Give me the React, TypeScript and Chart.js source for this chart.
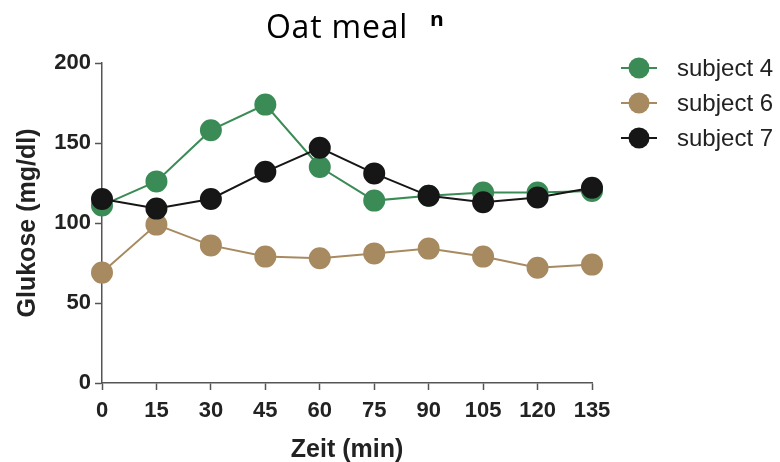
import React, { useEffect, useRef } from "react";
import { Chart, registerables } from "chart.js";

Chart.register(...registerables);

const times = [0, 15, 30, 45, 60, 75, 90, 105, 120, 135];
const subject4 = [111, 126, 158, 174, 135, 114, 117, 119, 119, 120];
const subject6 = [69, 99, 86, 79, 78, 81, 84, 79, 72, 74];
const subject7 = [115, 109, 115, 132, 147, 131, 117, 113, 116, 122];
const seriesLabels = ["subject 4", "subject 6", "subject 7"];
const seriesColors = ["#3b8b56", "#a88a60", "#161616"];
const yTicks = [0, 50, 100, 150, 200];
const chartTitle = "Oat meal";
const xTitle = "Zeit (min)";
const yTitle = "Glukose (mg/dl)";

const AXIS = "#555555";
const SANS = "'Liberation Sans', Arial, sans-serif";

const titlePlugin = {
  id: "customTitle",
  afterDraw(chart: any) {
    const ctx = chart.ctx;
    ctx.save();
    ctx.fillStyle = "#000";
    ctx.font = "32px 'Open Sans', sans-serif";
    try { (ctx as any).letterSpacing = "0.8px"; } catch (e) {}
    ctx.textAlign = "center";
    ctx.textBaseline = "alphabetic";
    ctx.fillText(chartTitle, 337, 38);
    try { (ctx as any).letterSpacing = "0px"; } catch (e) {}
    // stray partial glyph seen in the reference
    ctx.beginPath();
    ctx.rect(430, 11, 14, 15);
    ctx.clip();
    ctx.font = "bold 21px 'Open Sans', sans-serif";
    ctx.textAlign = "center";
    ctx.textBaseline = "alphabetic";
    ctx.fillText("n", 437, 27);
    ctx.restore();
  },
};

const legendPlugin = {
  id: "customLegend",
  afterDraw(chart: any) {
    const ctx = chart.ctx;
    const rows = [68, 103, 138];
    ctx.save();
    chart.data.datasets.forEach((ds: any, i: number) => {
      const y = rows[i];
      ctx.strokeStyle = ds.borderColor;
      ctx.lineWidth = 2;
      ctx.beginPath();
      ctx.moveTo(621, y);
      ctx.lineTo(657, y);
      ctx.stroke();
      ctx.fillStyle = ds.backgroundColor;
      ctx.beginPath();
      ctx.arc(639, y, 10.5, 0, Math.PI * 2);
      ctx.fill();
      ctx.fillStyle = "#222";
      ctx.font = "24px " + SANS;
      ctx.textAlign = "left";
      ctx.textBaseline = "middle";
      ctx.fillText(ds.label, 677, y + 1);
    });
    ctx.restore();
  },
};

export default function App() {
  const ref = useRef<HTMLCanvasElement | null>(null);

  useEffect(() => {
    if (!ref.current) return;
    const mk = (vals: number[]) => times.map((t, i) => ({ x: t, y: vals[i] }));
    const all = [subject4, subject6, subject7];
    const orders = [1, 2, 0];
    const chart = new Chart(ref.current, {
      type: "line",
      data: {
        datasets: all.map((vals, i) => ({
          label: seriesLabels[i],
          data: mk(vals),
          borderColor: seriesColors[i],
          backgroundColor: seriesColors[i],
          pointBackgroundColor: seriesColors[i],
          pointBorderColor: seriesColors[i],
          borderWidth: 2,
          pointRadius: 10,
          pointHoverRadius: 10,
          order: orders[i],
          clip: false as any,
          tension: 0,
        })),
      },
      options: {
        animation: false,
        responsive: false,
        events: [],
        layout: { padding: { top: 63, left: 0, right: 188, bottom: 0 } },
        plugins: {
          legend: { display: false },
          title: { display: false },
          tooltip: { enabled: false },
        },
        scales: {
          x: {
            type: "linear",
            min: 0,
            max: 135,
            afterBuildTicks: (scale: any) => {
              scale.ticks = times.map((v) => ({ value: v }));
            },
            afterFit: (scale: any) => {
              scale.height = 79;
            },
            ticks: {
              color: "#222",
              font: { family: SANS, size: 22, weight: "bold" },
              padding: 8,
              maxRotation: 0,
              autoSkip: false,
            },
            grid: {
              display: true,
              drawOnChartArea: false,
              drawTicks: true,
              tickLength: 7,
              tickColor: AXIS,
              tickWidth: 1.5,
            },
            border: { display: true, color: AXIS, width: 1.5 },
            title: {
              display: true,
              text: xTitle,
              color: "#222",
              font: { family: SANS, size: 25, weight: "bold" },
              padding: { top: 0, bottom: -3 },
            },
          },
          y: {
            type: "linear",
            min: 0,
            max: 200,
            afterBuildTicks: (scale: any) => {
              scale.ticks = yTicks.map((v) => ({ value: v }));
            },
            afterFit: (scale: any) => {
              scale.width = 102;
            },
            ticks: {
              color: "#222",
              font: { family: SANS, size: 22, weight: "bold" },
              padding: 4,
            },
            grid: {
              display: true,
              drawOnChartArea: false,
              drawTicks: true,
              tickLength: 7,
              tickColor: AXIS,
              tickWidth: 1.5,
            },
            border: { display: true, color: AXIS, width: 1.5 },
            title: {
              display: true,
              text: yTitle,
              color: "#222",
              font: { family: SANS, size: 25, weight: "bold" },
              padding: { top: 13, bottom: 0 },
            },
          },
        },
      } as any,
      plugins: [titlePlugin, legendPlugin],
    });
    return () => chart.destroy();
  }, []);

  return (
    <div style={{ position: "fixed", left: 0, top: 0, width: 780, height: 462, background: "#fff" }}>
      <canvas ref={ref} width={780} height={462} style={{ width: 780, height: 462 }} />
    </div>
  );
}
